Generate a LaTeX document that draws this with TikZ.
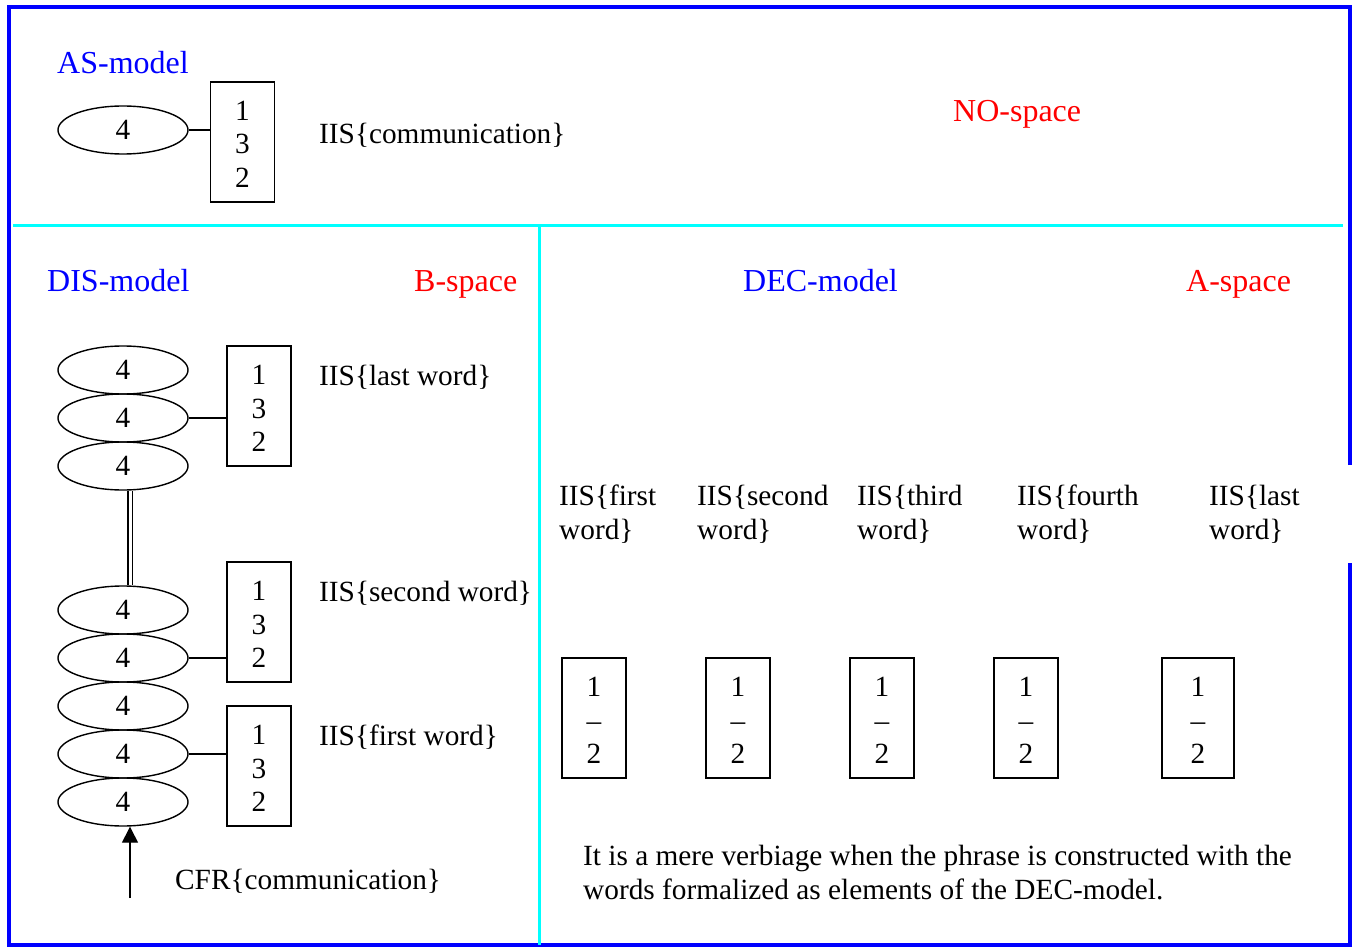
\documentclass[tikz,border=0pt]{standalone}
\usepackage{fontspec}
\setmainfont{Liberation Serif}
\usetikzlibrary{shapes.geometric,arrows.meta}
\definecolor{bblue}{RGB}{0,0,255}
\definecolor{ccyan}{RGB}{0,255,255}
\definecolor{rred}{RGB}{255,0,0}
\newcommand{\lowr}{\rule{0pt}{24pt}}
\begin{document}
\begin{tikzpicture}[x=1pt,y=-1pt,
  every node/.style={font=\fontsize{29.3}{33.5}\selectfont, inner sep=0pt},
  lbl/.style={anchor=base west},
  ttl/.style={anchor=base west, text=bblue, font=\fontsize{32}{36}\selectfont},
  spc/.style={anchor=base west, text=rred, font=\fontsize{32}{36}\selectfont},
  oval/.style={ellipse, draw, line width=1.4pt, minimum width=130pt, minimum height=48pt},
  cbox/.style={draw, line width=1.4pt, minimum width=64pt, minimum height=120pt, align=center},
  link/.style={line width=1.4pt},
  two/.style={anchor=north west, align=left}]
\useasboundingbox (0,0) rectangle (1353,947);
% frame
\draw[bblue, line width=3.5pt] (1350,465) -- (1350,7) -- (9,7) -- (9,945) -- (1350,945) -- (1350,563);
\draw[ccyan, line width=3pt] (13,225) -- (1343,225);
\draw[ccyan, line width=3pt] (539,225) -- (539,945);
% AS-model
\node[ttl] (astitle) at (57,74) {AS-model};
\node[oval] (a4) at (123,130) {4};
\node[cbox] (abox) at (242.5,142) {\lowr 1\\3\\2};
\draw[link] (a4.east) -- (a4.east -| abox.west);
\node[lbl] (aiis) at (319,144) {IIS\{communication\}};
\node[spc] (nospace) at (953,122) {NO-space};
% DIS-model
\node[ttl] (distitle) at (47,291) {DIS-model};
\node[spc] (bspace) at (414,291) {B-space};
\node[oval] (e1) at (123,370) {4};
\node[oval] (e2) at (123,418) {4};
\node[oval] (e3) at (123,466) {4};
\node[oval] (e4) at (123,610) {4};
\node[oval] (e5) at (123,658) {4};
\node[oval] (e6) at (123,706) {4};
\node[oval] (e7) at (123,754) {4};
\node[oval] (e8) at (123,802) {4};
\node[cbox] (b1) at (259,406) {\lowr 1\\3\\2};
\node[cbox] (b2) at (259,622) {\lowr 1\\3\\2};
\node[cbox] (b3) at (259,766) {\lowr 1\\3\\2};
\draw[link] (e2.east) -- (e2.east -| b1.west);
\draw[link] (e5.east) -- (e5.east -| b2.west);
\draw[link] (e7.east) -- (e7.east -| b3.west);
\draw[line width=1.2pt, double, double distance=3pt] ([xshift=7pt]e3.south) -- ([xshift=7pt]e4.north);
\coordinate (cfrfoot) at (130,898);
\draw[link, -{Triangle[length=16pt,width=16pt]}] (cfrfoot) -- ([xshift=7pt]e8.south);
\node[lbl] (lastw) at (319,385) {IIS\{last word\}};
\node[lbl] (secw) at (319,601) {IIS\{second word\}};
\node[lbl] (firstw) at (319,745) {IIS\{first word\}};
\node[lbl] (cfr) at (175,889) {CFR\{communication\}};
% DEC-model
\node[ttl] (dectitle) at (743,291) {DEC-model};
\node[spc] (aspace) at (1186,291) {A-space};
\node[two] (l1) at (559,485) {IIS\{first\\word\}};
\node[two] (l2) at (697,485) {IIS\{second\\word\}};
\node[two] (l3) at (857,485) {IIS\{third\\word\}};
\node[two] (l4) at (1017,485) {IIS\{fourth\\word\}};
\node[two] (l5) at (1209,485) {IIS\{last\\word\}};
\node[cbox] (d1) at (594,718) {\lowr 1\\–\\2};
\node[cbox] (d2) at (738,718) {\lowr 1\\–\\2};
\node[cbox] (d3) at (882,718) {\lowr 1\\–\\2};
\node[cbox] (d4) at (1026,718) {\lowr 1\\–\\2};
\node[cbox, minimum width=72pt] (d5) at (1198,718) {\lowr 1\\–\\2};
\node[two] (note) at (583,845) {It is a mere verbiage when the phrase is constructed with the\\words formalized as elements of the DEC-model.};
\end{tikzpicture}
\end{document}
